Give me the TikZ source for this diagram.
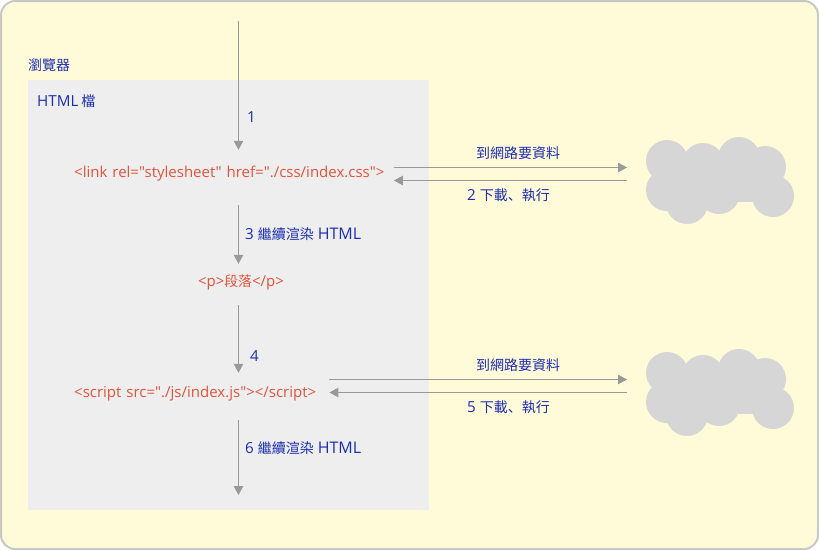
\documentclass[tikz,border=0pt]{standalone}
\usepackage{fontspec}
\setmainfont{Open Sans}
\newfontfamily\codefont{Open Sans}
\newfontfamily\cjkfont[Scale=0.921]{Noto Sans CJK TC}
\newfontfamily\cjkjpfont[Scale=0.921]{Noto Sans CJK JP}
\usetikzlibrary{arrows.meta, positioning, calc}

\definecolor{pageyellow}{HTML}{FFFBD9}
\definecolor{pageborder}{HTML}{C8C8C4}
\definecolor{panelgray}{HTML}{EEEEEE}
\definecolor{cloudgray}{HTML}{D6D6D6}
\definecolor{flowgray}{HTML}{999999}
\definecolor{labelblue}{HTML}{1C2DB0}
\definecolor{codered}{HTML}{E2533B}

\tikzset{
  flow/.style={draw=flowgray, line width=1pt, -{Triangle[length=9pt, width=9.5pt]}},
  lbl/.style={text=labelblue, inner sep=0pt, font=\fontsize{15.2}{17}\selectfont},
  code/.style={text=codered, inner sep=0pt, anchor=base west, align=left, font=\fontsize{15}{17}\selectfont\codefont},
}

\begin{document}
\begin{tikzpicture}[x=1pt, y=-1pt]
  \newcommand\widehtml{{\fontsize{16}{17}\selectfont HTML}}
  \useasboundingbox (0, 0) rectangle (819, 550);

  \draw[pageborder, fill=pageyellow, line width=2pt, rounded corners=14pt] (1, 1) rectangle (818, 549);
  \fill[panelgray] (28, 80) rectangle (429, 510);

  % clouds
  \foreach \cloudy in {0, 212}{
    \fill[cloudgray] (668, 160+\cloudy) rectangle (767, 202+\cloudy);
    \foreach \cx/\cy in {667/161, 703/164, 739/158, 765/167, 667/190, 687/203, 719/193, 773/196}{
      \fill[cloudgray] (\cx, \cy+\cloudy) circle (21);
    }
  }

  \node[lbl, anchor=west] at (28, 65.5) (nbrowser) {\cjkfont 瀏覽器};
  \node[lbl, anchor=west] at (37, 101.5) (nfile) {HTML\hspace{3pt}\cjkfont 檔};

  \coordinate (ctop) at (238.5, 21);
  \coordinate (cend) at (238.5, 495);
  \coordinate (cout1) at (627, 167.5);
  \coordinate (cback1) at (627, 180.5);
  \coordinate (cout2) at (627, 379.5);
  \coordinate (cback2) at (627, 392.5);

  \node[code, text width=319.5pt, text height=27.5pt, text depth=27.5pt] at (74, 177.5) (nlink) {<link rel="stylesheet" href="./css/index.css">};
  \node[code, anchor=base, align=center, text height=22pt, text depth=19pt] at (241, 286) (npara) {<p>{\cjkfont 段落}</p>};
  \node[code, text width=255pt, text height=24.5pt, text depth=22pt] at (74, 397.5) (nscript) {<script src="./js/index.js"></script>};

  \draw[flow] (ctop) -- (ctop |- nlink.north);
  \draw[flow] (ctop |- nlink.south) -- (ctop |- npara.north);
  \draw[flow] (ctop |- npara.south) -- (ctop |- nscript.north);
  \draw[flow] (ctop |- nscript.south) -- (cend);

  \draw[flow] (nlink.east |- cout1) -- (cout1);
  \draw[flow] (cback1) -- (nlink.east |- cback1);
  \draw[flow] (nscript.east |- cout2) -- (cout2);
  \draw[flow] (cback2) -- (nscript.east |- cback2);

  \node[lbl, anchor=west] at (247, 117) (nstep1) {1};
  \node[lbl, anchor=west] at (245, 234) (nstep3) {3 {\cjkfont 繼續渲染} \widehtml};
  \node[lbl, anchor=west] at (250, 356.5) (nstep4) {4};
  \node[lbl, anchor=west] at (245, 448.5) (nstep6) {6 {\cjkfont 繼續渲染} \widehtml};

  \foreach \rowid/\ask/\run/\stepno in {1/153/195.5/2, 2/365.5/407.5/5}{
    \node[lbl] at (518, \ask) (nask\rowid) {\cjkfont 到網路要資料};
    \node[lbl, anchor=west] at (467, \run) (nrun\rowid) {\stepno\ \cjkfont 下載\cjkjpfont 、\cjkfont 執行};
  }
\end{tikzpicture}
\end{document}
